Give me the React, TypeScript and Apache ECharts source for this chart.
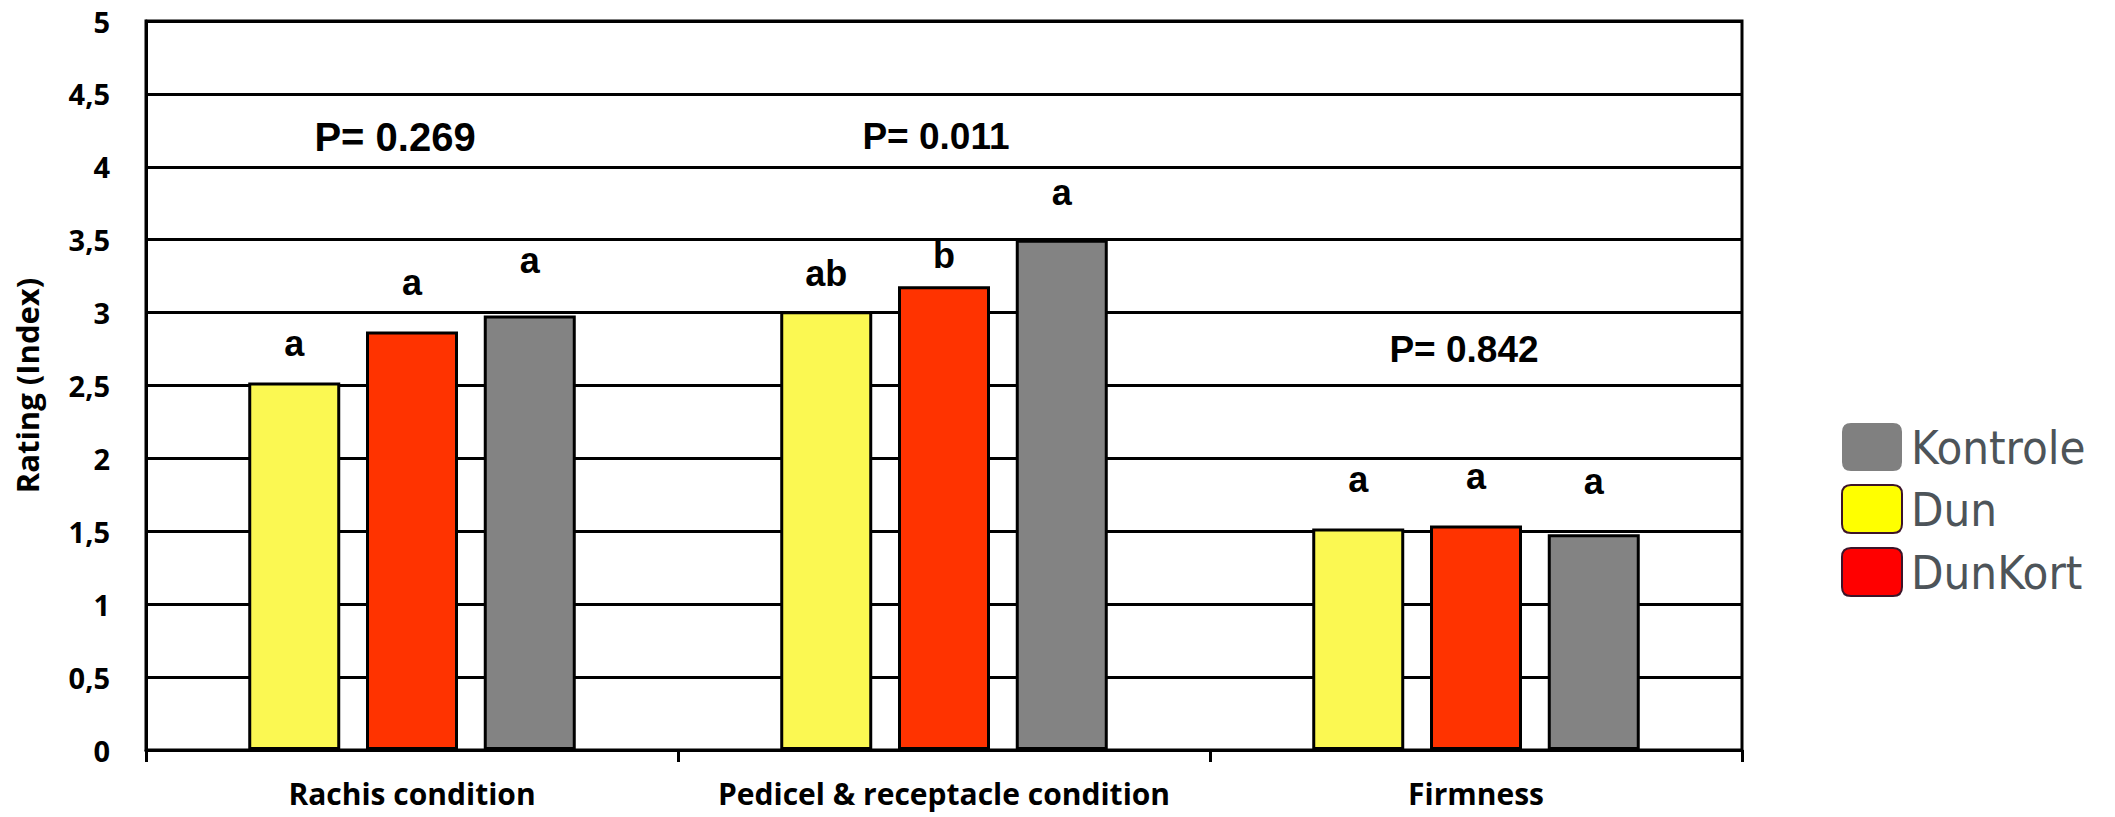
import React, { useEffect, useRef } from "react";
import * as echarts from "echarts";

const categories = ["Rachis condition", "Pedicel & receptacle condition", "Firmness"];
const dunValues = [2.52, 3.01, 1.52];
const dunKortValues = [2.87, 3.18, 1.54];
const kontroleValues = [2.98, 3.5, 1.48];
const dunLetters = ["a", "ab", "a"];
const dunKortLetters = ["a", "b", "a"];
const kontroleLetters = ["a", "a", "a"];
const pValueTexts = ["P= 0.269", "P= 0.011", "P= 0.842"];
const yAxisName = "Rating (Index)";
const legendNames = ["Kontrole", "Dun", "DunKort"];

// label distances (px) above bars — style only
const dunGap = [21, 20, 31];
const dunKortGap = [31, 13, 31];
const kontroleGap = [37, 29, 35];

const CALIBRI = '"Open Sans", "Lato", sans-serif';
const ARIAL = '"Liberation Sans", Arial, sans-serif';
const ICON = "path://M9,0 L51,0 Q60,0 60,9 L60,39 Q60,48 51,48 L9,48 Q0,48 0,39 L0,9 Q0,0 9,0 Z";

function makeData(values: number[], letters: string[], gaps: number[]) {
  return values.map((v, i) => ({
    value: v,
    label: { distance: gaps[i], formatter: letters[i] },
  }));
}

const barLabel = {
  show: true,
  position: "top",
  color: "#000",
  fontFamily: ARIAL,
  fontWeight: "bold",
  fontSize: 36,
};

export default function App() {
  const ref = useRef<HTMLDivElement>(null);
  useEffect(() => {
    if (!ref.current) return;
    const chart = echarts.init(ref.current, null, { renderer: "svg" });
    chart.setOption({
      animation: false,
      backgroundColor: "#fff",
      grid: {
        left: 146,
        right: 373,
        top: 21,
        bottom: 67,
        show: true,
        borderColor: "#000",
        borderWidth: 3,
      },
      legend: {
        orient: "vertical",
        left: 1836,
        top: 418,
        itemWidth: 60,
        itemHeight: 48,
        itemGap: 13,
        icon: ICON,
        textStyle: {
          fontFamily: '"DejaVu Sans Condensed", "DejaVu Sans", sans-serif',
          fontSize: 47,
          color: "#4d5459",
          padding: [8, 0, 0, 4],
        },
        data: [
          { name: legendNames[0], itemStyle: { color: "#808080", borderWidth: 0 } },
          { name: legendNames[1], itemStyle: { color: "#ffff00", borderColor: "#3d1428", borderWidth: 2 } },
          { name: legendNames[2], itemStyle: { color: "#ff0000", borderColor: "#3d1428", borderWidth: 2 } },
        ],
      },
      xAxis: {
        type: "category",
        data: categories,
        axisLine: { show: true, lineStyle: { color: "#000", width: 3 } },
        axisTick: { show: true, length: 12, lineStyle: { color: "#000", width: 3 } },
        axisLabel: {
          interval: 0,
          margin: 27,
          lineHeight: 32,
          color: "#000",
          fontFamily: CALIBRI,
          fontWeight: "bold",
          fontSize: 30,
        },
      },
      yAxis: {
        type: "value",
        min: 0,
        max: 5,
        interval: 0.5,
        name: yAxisName,
        nameLocation: "middle",
        nameGap: 104,
        nameRotate: 90,
        nameTextStyle: {
          color: "#000",
          fontFamily: CALIBRI,
          fontWeight: "bold",
          fontSize: 31,
        },
        axisLine: { show: true, lineStyle: { color: "#000", width: 3 } },
        axisTick: { show: false },
        splitLine: { show: true, lineStyle: { color: "#000", width: 3 } },
        axisLabel: {
          margin: 36,
          color: "#000",
          fontFamily: CALIBRI,
          fontWeight: "bold",
          fontSize: 29,
          formatter: (v: number) => String(v).replace(".", ","),
        },
      },
      graphic: [
        {
          type: "text",
          x: 395,
          y: 137,
          style: { text: pValueTexts[0], fill: "#000", font: `bold 40px ${ARIAL}`, align: "center", verticalAlign: "middle" },
        },
        {
          type: "text",
          x: 936,
          y: 136,
          style: { text: pValueTexts[1], fill: "#000", font: `bold 37px ${ARIAL}`, align: "center", verticalAlign: "middle" },
        },
        {
          type: "text",
          x: 1464,
          y: 349,
          style: { text: pValueTexts[2], fill: "#000", font: `bold 37px ${ARIAL}`, align: "center", verticalAlign: "middle" },
        },
      ],
      series: [
        {
          name: "Dun",
          type: "bar",
          barWidth: 92,
          barGap: "28%",
          itemStyle: { color: "#fbf852", borderColor: "#000", borderWidth: 3 },
          label: barLabel,
          data: makeData(dunValues, dunLetters, dunGap),
        },
        {
          name: "DunKort",
          type: "bar",
          barWidth: 92,
          barGap: "28%",
          itemStyle: { color: "#ff3300", borderColor: "#000", borderWidth: 3 },
          label: barLabel,
          data: makeData(dunKortValues, dunKortLetters, dunKortGap),
        },
        {
          name: "Kontrole",
          type: "bar",
          barWidth: 92,
          barGap: "28%",
          itemStyle: { color: "#838383", borderColor: "#000", borderWidth: 3 },
          label: barLabel,
          data: makeData(kontroleValues, kontroleLetters, kontroleGap),
        },
      ],
    });
    return () => chart.dispose();
  }, []);
  return (
    <div
      ref={ref}
      style={{ position: "fixed", left: 0, top: 0, width: 2115, height: 817, background: "#fff" }}
    />
  );
}
